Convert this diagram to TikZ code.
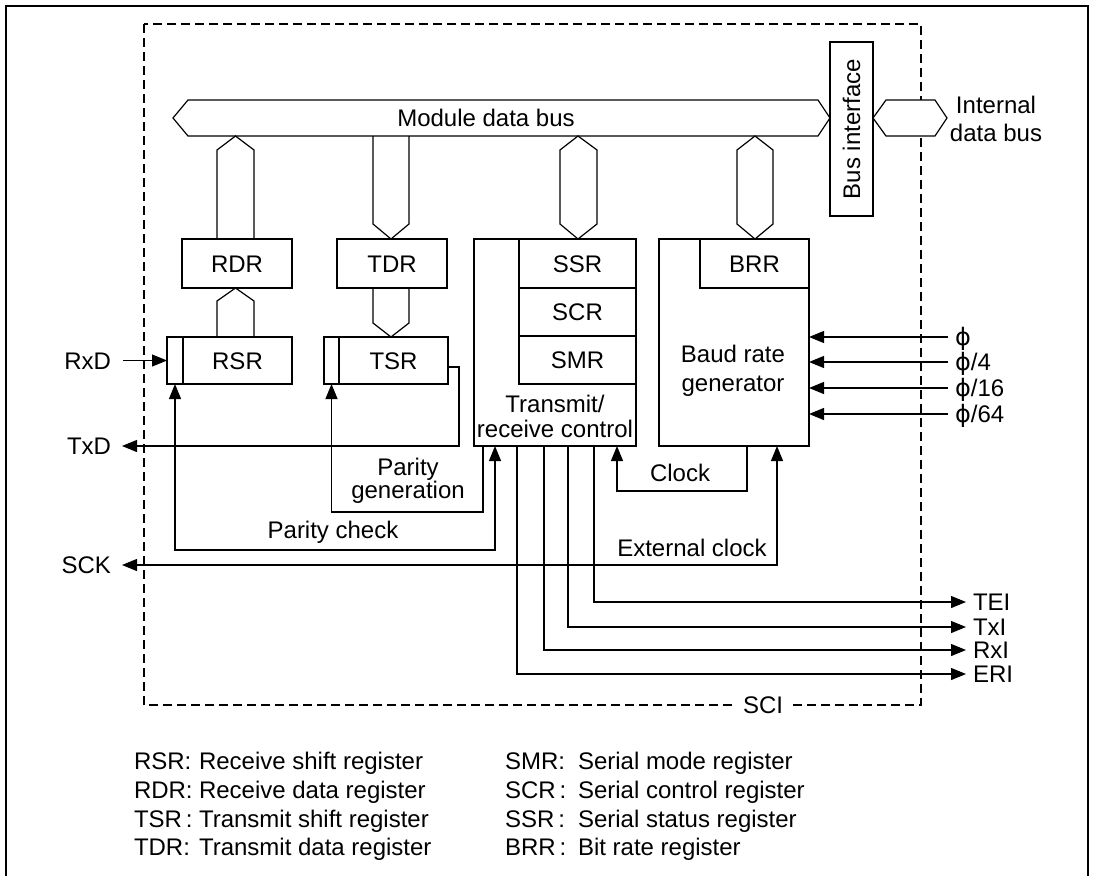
\documentclass[tikz,border=0pt]{standalone}
\usepackage{fontspec}
\usepackage{graphicx}
\setmainfont{Liberation Sans}
\newfontfamily\phifont{DejaVu Sans}
\usetikzlibrary{arrows.meta}
\begin{document}
\begin{tikzpicture}[x=1pt,y=-1pt,
  every node/.style={font=\fontsize{24}{26}\selectfont, inner sep=0pt, outer sep=0pt},
  lab/.style={text height=17pt, text depth=0pt},
  reg/.style={draw, line width=1.2pt, anchor=north west, lab},
  ln/.style={line width=1.2pt},
  arr/.style={line width=1.2pt, -{Triangle[length=15pt,width=12pt]}},
  arrb/.style={line width=1.2pt, {Triangle[length=15pt,width=12pt]}-{Triangle[length=15pt,width=12pt]}},
  busshape/.style={draw, line width=1.2pt, fill=white},
  sci/.style={line width=1.2pt, dash pattern=on 9pt off 5pt}]
\useasboundingbox (0,0) rectangle (1099,875);
% outer frame
\draw[line width=1.5pt] (6,880) -- (6,6) -- (1088,6) -- (1088,880);
% SCI dashed box
\draw[sci] (144,24) rectangle (921,705);
\node[fill=white, inner xsep=6pt, lab] (scilbl) at (763,705) {SCI};

% buses
\draw[busshape] (173,118) -- (188,100) -- (818,100) -- (830,118) -- (818,136) -- (188,136) -- cycle;
\node[lab] (mdb) at (486,118) {Module data bus};
\draw[busshape] (873,118) -- (886,100) -- (935,100) -- (947,118) -- (935,136) -- (886,136) -- cycle;
\node[align=center, font=\fontsize{24}{28}\selectfont] (idb) at (996,119) {Internal\\data bus};

% bus interface
\node[reg, minimum width=43pt, minimum height=174pt] (busif) at (830,42) {};
\node at (busif.center) {\rotatebox{90}{Bus interface}};

% registers
\node[reg, minimum width=110pt, minimum height=49pt] (rdr) at (182,239) {RDR};
\node[reg, minimum width=110pt, minimum height=49pt] (tdr) at (337,239) {TDR};
\node[reg, minimum width=162pt, minimum height=207pt] (ctrl) at (474,239) {};
\node[reg, minimum width=117pt, minimum height=49pt] (ssr) at (519,239) {SSR};
\node[reg, minimum width=117pt, minimum height=48pt] (scr) at (519,288) {SCR};
\node[reg, minimum width=117pt, minimum height=48pt] (smr) at (519,336) {SMR};
\node[align=center, font=\fontsize{24}{25}\selectfont] (ctrltxt) at (555,416) {Transmit/\\receive control};
\node[reg, minimum width=150pt, minimum height=207pt] (brg) at (659,239) {};
\node[reg, minimum width=109pt, minimum height=49pt] (brr) at (700,239) {BRR};
\node[align=center, font=\fontsize{24}{29}\selectfont] (brgtxt) at (733,371) {Baud rate\\generator};
\node[reg, minimum width=16pt, minimum height=47pt] (rsrbit) at (167,337) {};
\node[reg, minimum width=109pt, minimum height=47pt] (rsr) at (183,337) {RSR};
\node[reg, minimum width=15pt, minimum height=47pt] (tsrbit) at (324,337) {};
\node[reg, minimum width=109pt, minimum height=47pt] (tsr) at (339,337) {TSR};

% vertical buses
\draw[ln] (217,239) -- (217,150) -- (235.5,136) -- (254,150) -- (254,239);
\draw[ln] (373,136) -- (373,224) -- (391,239) -- (409,224) -- (409,136);
\draw[ln] (578,136) -- (597,150) -- (597,224) -- (578,239) -- (560,224) -- (560,150) -- cycle;
\draw[ln] (755,136) -- (773,150) -- (773,224) -- (755,239) -- (737,224) -- (737,150) -- cycle;
\draw[ln] (217,337) -- (217,301) -- (235.5,288) -- (254,301) -- (254,337);
\draw[ln] (373,288) -- (373,323) -- (391,337) -- (409,323) -- (409,288);

% pin labels
\node[anchor=east, lab] (rxd) at (111,360.5) {RxD};
\node[anchor=east, lab] (txd) at (111,446) {TxD};
\node[anchor=east, lab] (sck) at (111,565) {SCK};
\node[anchor=west, lab] (tei) at (973,602) {TEI};
\node[anchor=west, lab] (txi) at (973,627) {TxI};
\node[anchor=west, lab] (rxi) at (973,650) {RxI};
\node[anchor=west, lab] (eri) at (973,674) {ERI};
\node[anchor=west, lab] (phi1) at (955,337) {{\phifont ϕ}};
\node[anchor=west, lab] (phi2) at (955,362) {{\phifont ϕ}/4};
\node[anchor=west, lab] (phi3) at (955,388) {{\phifont ϕ}/16};
\node[anchor=west, lab] (phi4) at (955,414) {{\phifont ϕ}/64};

% connectors
\draw[arr] ([xshift=12pt]rxd.east) -- (rsrbit.west);
\draw[arr] (tsr.east |- 0,367) -- (459,367) -- (459,446) -- ([xshift=11pt]txd.east);
\draw[arr] (483,0 |- ctrl.south) -- (483,512) -- (tsrbit.south |- 0,512) -- (tsrbit.south);
\node[align=center, font=\fontsize{24}{23}\selectfont] (pgen) at (408,481) {Parity\\generation};
\draw[arrb] (rsrbit.south) -- (rsrbit.south |- 0,550) -- (495,550) -- (495,0 |- ctrl.south);
\node[lab] (pchk) at (333,530) {Parity check};
\draw[arr] (747,0 |- brg.south) -- (747,491) -- (617,491) -- (617,0 |- ctrl.south);
\node[lab] (clk) at (680,473) {Clock};
\draw[arrb] ([xshift=11pt]sck.east) -- (777,565) -- (777,0 |- brg.south);
\node[lab] (extclk) at (692,548) {External clock};
\draw[arr] (594,0 |- ctrl.south) |- ([xshift=-7pt]tei.west);
\draw[arr] (568,0 |- ctrl.south) |- ([xshift=-7pt]txi.west);
\draw[arr] (544,0 |- ctrl.south) |- ([xshift=-7pt]rxi.west);
\draw[arr] (517,0 |- ctrl.south) |- ([xshift=-7pt]eri.west);
\foreach \p in {phi1,phi2,phi3,phi4}
  \draw[arr] ([xshift=-7pt]\p.west) -- (brg.east |- \p.west);

% legend
\node[anchor=west, lab] (l1a) at (134,761) {RSR:};
\node[anchor=west, lab] (l1b) at (199,761) {Receive shift register};
\node[anchor=west, lab] (l2a) at (134,790) {RDR:};
\node[anchor=west, lab] (l2b) at (199,790) {Receive data register};
\node[anchor=west, lab] (l3a) at (134,819) {TSR\,:};
\node[anchor=west, lab] (l3b) at (199,819) {Transmit shift register};
\node[anchor=west, lab] (l4a) at (134,847) {TDR:};
\node[anchor=west, lab] (l4b) at (199,847) {Transmit data register};
\node[anchor=west, lab] (r1a) at (505,761) {SMR:};
\node[anchor=west, lab] (r1b) at (578,761) {Serial mode register};
\node[anchor=west, lab] (r2a) at (505,790) {SCR\,:};
\node[anchor=west, lab] (r2b) at (578,790) {Serial control register};
\node[anchor=west, lab] (r3a) at (505,819) {SSR\,:};
\node[anchor=west, lab] (r3b) at (578,819) {Serial status register};
\node[anchor=west, lab] (r4a) at (505,847) {BRR\,:};
\node[anchor=west, lab] (r4b) at (578,847) {Bit rate register};
\end{tikzpicture}
\end{document}
